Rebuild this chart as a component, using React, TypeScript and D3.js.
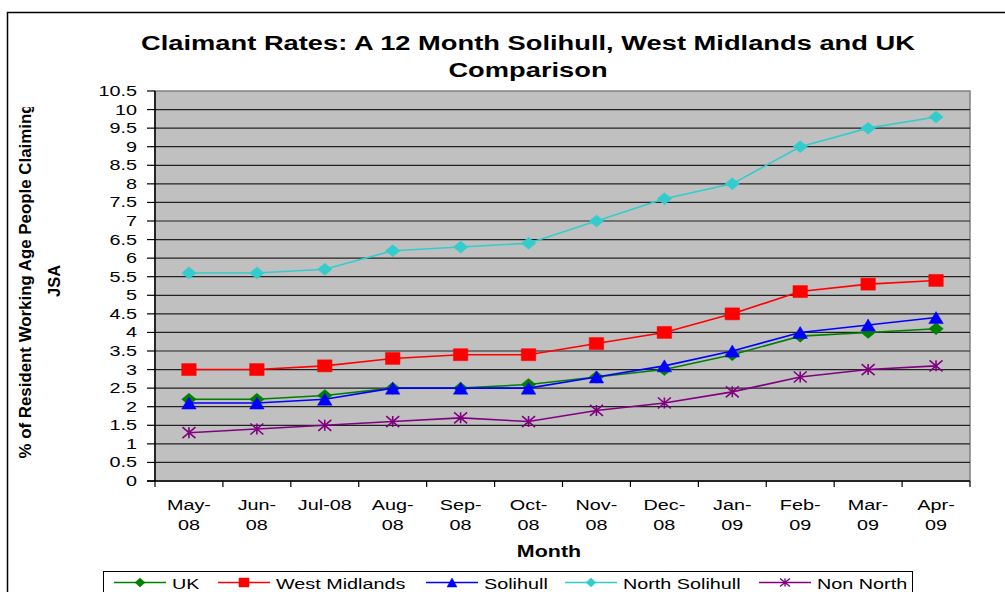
import { useRef, useEffect } from "react";
import * as d3 from "d3";

const months = ["May-08", "Jun-08", "Jul-08", "Aug-08", "Sep-08", "Oct-08", "Nov-08", "Dec-08", "Jan-09", "Feb-09", "Mar-09", "Apr-09"];
const monthLabels = [["May-", "08"], ["Jun-", "08"], ["Jul-08"], ["Aug-", "08"], ["Sep-", "08"], ["Oct-", "08"], ["Nov-", "08"], ["Dec-", "08"], ["Jan-", "09"], ["Feb-", "09"], ["Mar-", "09"], ["Apr-", "09"]];

const uk = [2.2, 2.2, 2.3, 2.5, 2.5, 2.6, 2.8, 3.0, 3.4, 3.9, 4.0, 4.1];
const westMidlands = [3.0, 3.0, 3.1, 3.3, 3.4, 3.4, 3.7, 4.0, 4.5, 5.1, 5.3, 5.4];
const solihull = [2.1, 2.1, 2.2, 2.5, 2.5, 2.5, 2.8, 3.1, 3.5, 4.0, 4.2, 4.4];
const northSolihull = [5.6, 5.6, 5.7, 6.2, 6.3, 6.4, 7.0, 7.6, 8.0, 9.0, 9.5, 9.8];
const nonNorth = [1.3, 1.4, 1.5, 1.6, 1.7, 1.6, 1.9, 2.1, 2.4, 2.8, 3.0, 3.1];

const seriesNames = ["UK", "West Midlands", "Solihull", "North Solihull", "Non North"];
const seriesValues = [uk, westMidlands, solihull, northSolihull, nonNorth];
const seriesColors = ["#008000", "#FF0000", "#0000FF", "#33CCCC", "#800080"];
const seriesMarkers = ["diamond", "square", "triangle", "diamond", "star"];

const yTickLabels = ["0", "0.5", "1", "1.5", "2", "2.5", "3", "3.5", "4", "4.5", "5", "5.5", "6", "6.5", "7", "7.5", "8", "8.5", "9", "9.5", "10", "10.5"];

const FONT = "'Liberation Sans', Arial, sans-serif";
const SX = 1.32; // horizontal stretch of the text in the source picture

function markerPath(kind: string, w: number, h: number) {
  const a = w / 2, b = h / 2;
  if (kind === "diamond") return `M0,${-b}L${a},0L0,${b}L${-a},0Z`;
  if (kind === "square") return `M${-a},${-b}H${a}V${b}H${-a}Z`;
  if (kind === "triangle") return `M0,${-b}L${a},${b}L${-a},${b}Z`;
  return `M${-a},${-b}L${a},${b}M${a},${-b}L${-a},${b}M0,${-b}L0,${b}`;
}

function Chart() {
  const svgRef = useRef<SVGSVGElement>(null);

  useEffect(() => {
    const svg = d3.select(svgRef.current);
    svg.selectAll("*").remove();

    const left = 155, right = 970, top = 91, bottom = 481;

    const x = d3.scaleBand().domain(months).range([left, right]);
    const y = d3.scaleLinear().domain([0, 10.5]).range([bottom, top]);
    const cx = (m: string) => (x(m) as number) + x.bandwidth() / 2;

    svg.append("rect").attr("width", 1005).attr("height", 592).attr("fill", "#fff");
    svg.append("rect")
      .attr("x", 7.5).attr("y", 12.5).attr("width", 1100).attr("height", 700)
      .attr("fill", "none").attr("stroke", "#000").attr("stroke-width", 1.5);

    const stretched = (g: any, tx: number, ty: number, s = SX) =>
      g.append("text").attr("transform", `translate(${tx},${ty}) scale(${s},1)`);

    // title
    const title = ["Claimant Rates: A 12 Month Solihull, West Midlands and UK", "Comparison"];
    title.forEach((t, i) => {
      stretched(svg, 528, 50 + i * 27, 1.4)
        .attr("text-anchor", "middle").attr("font-family", FONT)
        .attr("font-weight", "bold").attr("font-size", 19.5).text(t);
    });

    // plot area
    svg.append("rect")
      .attr("x", left).attr("y", top).attr("width", right - left).attr("height", bottom - top)
      .attr("fill", "#C0C0C0").attr("stroke", "#808080").attr("stroke-width", 1.5);

    const ticks = y.ticks(21);
    svg.append("g").selectAll("line").data(ticks.filter((d) => d > 0 && d < 10.5)).join("line")
      .attr("x1", left).attr("x2", right)
      .attr("y1", (d) => y(d)).attr("y2", (d) => y(d))
      .attr("stroke", "#222").attr("stroke-width", 1.2);

    // axes
    svg.append("line").attr("x1", left).attr("x2", left).attr("y1", top).attr("y2", bottom)
      .attr("stroke", "#000").attr("stroke-width", 1.5);
    svg.append("line").attr("x1", left - 8).attr("x2", right).attr("y1", bottom).attr("y2", bottom)
      .attr("stroke", "#000").attr("stroke-width", 1.5);

    svg.append("g").selectAll("line").data(ticks).join("line")
      .attr("x1", left - 8).attr("x2", left)
      .attr("y1", (d) => y(d)).attr("y2", (d) => y(d))
      .attr("stroke", "#000").attr("stroke-width", 1.2);

    ticks.forEach((d, i) => {
      stretched(svg, 137, y(d) + 5)
        .attr("text-anchor", "end").attr("font-family", FONT).attr("font-size", 15)
        .text(yTickLabels[i]);
    });

    const edges = months.map((m) => x(m) as number).concat([right]);
    svg.append("g").selectAll("line").data(edges).join("line")
      .attr("x1", (d) => d).attr("x2", (d) => d)
      .attr("y1", bottom).attr("y2", bottom + 6)
      .attr("stroke", "#000").attr("stroke-width", 1.2);

    months.forEach((m, i) => {
      monthLabels[i].forEach((line, j) => {
        stretched(svg, cx(m), 510 + j * 20)
          .attr("text-anchor", "middle").attr("font-family", FONT).attr("font-size", 15)
          .text(line);
      });
    });

    stretched(svg, 549, 557, 1.3)
      .attr("text-anchor", "middle").attr("font-family", FONT)
      .attr("font-weight", "bold").attr("font-size", 16.5).text("Month");

    // y axis title
    const clip = svg.append("clipPath").attr("id", "yclip");
    clip.append("rect").attr("x", 0).attr("y", 107).attr("width", 100).attr("height", 500);
    const yt = svg.append("g").attr("clip-path", "url(#yclip)");
    yt.append("text")
      .attr("transform", "translate(31,281) rotate(-90)")
      .attr("text-anchor", "middle").attr("font-family", FONT)
      .attr("font-weight", "bold").attr("font-size", 16.5)
      .attr("textLength", 355).attr("lengthAdjust", "spacingAndGlyphs")
      .text("% of Resident Working Age People Claiming");
    yt.append("text")
      .attr("transform", "translate(60,281) rotate(-90)")
      .attr("text-anchor", "middle").attr("font-family", FONT)
      .attr("font-weight", "bold").attr("font-size", 16.5)
      .text("JSA");

    // series
    const line = d3.line<number>()
      .x((_, i) => cx(months[i]))
      .y((d) => y(d));

    seriesValues.forEach((vals, s) => {
      const g = svg.append("g");
      g.append("path").datum(vals)
        .attr("d", line).attr("fill", "none")
        .attr("stroke", seriesColors[s]).attr("stroke-width", 1.6);
      const isStar = seriesMarkers[s] === "star";
      g.selectAll("path.m").data(vals).join("path")
        .attr("class", "m")
        .attr("transform", (d, i) => `translate(${cx(months[i])},${y(d)})`)
        .attr("d", markerPath(seriesMarkers[s], isStar ? 13 : 14.5, isStar ? 11 : 12))
        .attr("fill", isStar ? "none" : seriesColors[s])
        .attr("stroke", seriesColors[s])
        .attr("stroke-width", isStar ? 1.6 : 0.5);
    });

    // legend
    svg.append("rect")
      .attr("x", 103.5).attr("y", 571.5).attr("width", 809).attr("height", 40)
      .attr("fill", "#fff").attr("stroke", "#000").attr("stroke-width", 1);
    const legendX = [114, 218, 426, 565, 759];
    seriesNames.forEach((name, s) => {
      const x0 = legendX[s];
      const ly = 582.5;
      svg.append("line").attr("x1", x0).attr("x2", x0 + 52).attr("y1", ly).attr("y2", ly)
        .attr("stroke", seriesColors[s]).attr("stroke-width", 1.6);
      const isStar = seriesMarkers[s] === "star";
      svg.append("path")
        .attr("transform", `translate(${x0 + 26},${ly})`)
        .attr("d", markerPath(seriesMarkers[s], isStar ? 10 : 10, isStar ? 8 : 9))
        .attr("fill", isStar ? "none" : seriesColors[s])
        .attr("stroke", seriesColors[s]).attr("stroke-width", isStar ? 1.4 : 0.5);
      stretched(svg, x0 + 58, 588.5)
        .attr("font-family", FONT).attr("font-size", 15).text(name);
    });
  }, []);

  return <svg ref={svgRef} width={1005} height={592} style={{ display: "block" }}></svg>;
}

export default function App() {
  return (
    <div style={{ position: "absolute", left: 0, top: 0 }}>
      <Chart />
    </div>
  );
}
